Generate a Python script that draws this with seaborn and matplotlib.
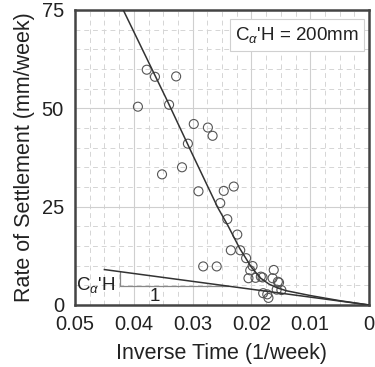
import numpy as np
import pandas as pd
import matplotlib
matplotlib.use("Agg")
import matplotlib.pyplot as plt
from matplotlib.ticker import MultipleLocator
import seaborn as sns

# measured points (inverse time, rate of settlement)
inv_time = [0.0378, 0.0364, 0.0328, 0.0393, 0.0340, 0.0298, 0.0274, 0.0266,
            0.0308, 0.0318, 0.0352, 0.0290, 0.0247, 0.0230, 0.0253, 0.0241,
            0.0224, 0.0235, 0.0219, 0.0209, 0.0282, 0.0259, 0.0198, 0.0202,
            0.0205, 0.0193, 0.0184, 0.0181, 0.0162, 0.0164, 0.0155, 0.0153,
            0.0157, 0.0149, 0.0180, 0.0173, 0.0171]
rate = [59.8, 58.0, 58.1, 50.4, 50.9, 46.0, 45.1, 43.0,
        41.0, 35.0, 33.2, 28.9, 29.0, 30.1, 25.9, 21.8,
        17.9, 13.9, 13.9, 11.9, 9.8, 9.8, 9.9, 8.8,
        6.8, 6.9, 7.2, 7.0, 8.9, 6.8, 5.9, 5.7,
        3.9, 3.8, 3.0, 2.7, 1.8]

# fitted curve
curve_x = [0.0418, 0.0344, 0.0300, 0.0257, 0.0240, 0.0220, 0.0200, 0.0185,
           0.0170, 0.0155, 0.0140, 0.0120, 0.0100, 0.0050, 0.0]
curve_y = [75.0, 52.2, 38.2, 24.7, 20.2, 14.4, 9.6, 6.9,
           5.3, 4.3, 3.6, 3.0, 2.4, 1.1, 0.0]

# C_alpha'H line (slope 200 mm)
ch_x = [0.045, 0.0]
ch_y = [9.0, 0.0]

# slope triangle
tri_x = [0.0423, 0.0423, 0.0240]
tri_y = [8.46, 4.8, 4.8]

plt.rcParams['font.family'] = ['Liberation Sans', 'DejaVu Sans']
plt.rcParams['mathtext.fontset'] = 'custom'
plt.rcParams['mathtext.rm'] = 'Liberation Sans'
plt.rcParams['mathtext.it'] = 'Liberation Sans:italic'

fig = plt.figure(figsize=(3.75, 3.67), dpi=100)
ax = fig.add_axes([0.2, 0.169, 0.784, 0.804])

pts = pd.DataFrame({"x": inv_time, "y": rate})
sns.scatterplot(data=pts, x="x", y="y", ax=ax, s=42, facecolor="none",
                edgecolor="#555555", linewidth=0.8, zorder=3)
sns.lineplot(x=curve_x, y=curve_y, ax=ax, color="#333333", linewidth=1.1,
             sort=False, zorder=4)
sns.lineplot(x=ch_x, y=ch_y, ax=ax, color="#333333", linewidth=1.1,
             sort=False, zorder=4)
ax.plot(tri_x, tri_y, color="#888888", linewidth=0.9, zorder=2)

ax.set_xlim(0.05, 0)
ax.set_ylim(0, 75)
ax.xaxis.set_major_locator(MultipleLocator(0.01))
ax.xaxis.set_minor_locator(MultipleLocator(0.0025))
ax.yaxis.set_major_locator(MultipleLocator(25))
ax.yaxis.set_minor_locator(MultipleLocator(5))
ax.set_xticks([0.05, 0.04, 0.03, 0.02, 0.01, 0])
ax.set_xticklabels(["0.05", "0.04", "0.03", "0.02", "0.01", "0"])
ax.grid(which="major", color="#cfcfcf", linewidth=0.8, linestyle="-", zorder=0)
ax.grid(which="minor", color="#d5d5d5", linewidth=0.7, linestyle=(0, (5, 4)), zorder=0)
ax.set_axisbelow(True)
ax.tick_params(which="both", length=0, labelsize=14.5, colors="#222222")
ax.tick_params(axis="x", pad=7)
ax.tick_params(axis="y", pad=8)
for sp in ax.spines.values():
    sp.set_color("#444444")
    sp.set_linewidth(1.8)

# the y "0" sits a bit higher so it clears the x tick labels
ax.get_yticklabels()[0].set_verticalalignment("center_baseline")

ax.set_xlabel("Inverse Time (1/week)", fontsize=15.5, color="#222222", labelpad=7)
ax.set_ylabel("Rate of Settlement (mm/week)", fontsize=15.5, color="#222222", labelpad=5)

ax.text(0.965, 0.915, r"C$_{\alpha}$'H = 200mm", transform=ax.transAxes,
        ha="right", va="center", fontsize=13.5, color="#222222",
        bbox=dict(boxstyle="square,pad=0.3", facecolor="white", edgecolor="#d0d0d0", linewidth=0.8),
        zorder=5)
ax.text(0.0432, 5.0, r"C$_{\alpha}$'H", ha="right", va="center", fontsize=13.5, color="#222222")
ax.text(0.0364, 2.2, "1", ha="center", va="center", fontsize=13.5, color="#222222")

fig.savefig("out.png", dpi=100)
